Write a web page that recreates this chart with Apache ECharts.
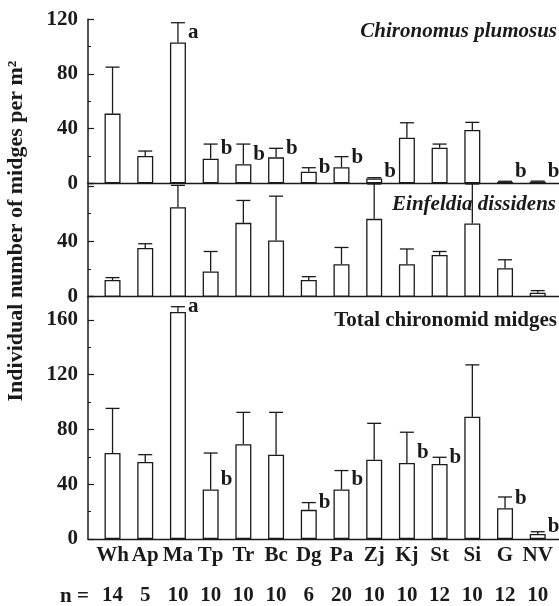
<!DOCTYPE html>
<html>
<head>
<meta charset="utf-8">
<script src="https://cdn.jsdelivr.net/npm/echarts@6/dist/echarts.min.js"></script>
<style>
html,body{margin:0;padding:0;background:#fff;}
#chart{width:559px;height:606px;}
</style>
</head>
<body>
<div id="chart"></div>
<script>
const categories = ['Wh','Ap','Ma','Tp','Tr','Bc','Dg','Pa','Zj','Kj','St','Si','G','NV'];
const nValues = [14,5,10,10,10,10,6,20,10,10,12,10,12,10];

const plumosusMean  = [51, 20, 103, 18, 14, 19, 8.5, 11.7, 3.6, 33.4, 26, 39, 1, 1.2];
const plumosusUpper = [85, 23.6, 117.5, 28.7, 28.7, 25.6, 11.4, 19.5, 4.1, 44.3, 28.7, 44.6, 1.5, 1.6];
const plumosusLetters = ['', '', 'a', 'b', 'b', 'b', 'b', 'b', 'b', '', '', '', 'b', 'b'];

const einfeldiaMean  = [12.1, 35.2, 64.7, 18.2, 53.4, 40.7, 12.1, 23.5, 56.3, 23.5, 30.1, 52.9, 20.6, 2.9];
const einfeldiaUpper = [13.8, 38.3, 80.5, 32.7, 69.6, 72.7, 14.5, 35.6, 81.5, 34.5, 32.7, 81.5, 26.7, 4.4];
const einfeldiaLetters = ['', '', '', '', '', '', '', '', '', '', '', '', '', ''];

const totalMean  = [62.8, 56.3, 165.8, 36.2, 69.3, 61.6, 21.3, 36.2, 57.9, 55.5, 54.8, 89.3, 22.5, 3.6];
const totalUpper = [95.4, 61.6, 169.7, 62.8, 92.5, 92.5, 26.6, 50, 84.5, 78, 59.7, 127.2, 30.7, 5.3];
const totalLetters = ['', '', 'a', 'b', '', '', 'b', 'b', '', 'b', 'b', '', 'b', 'b'];

const yTop = {max: 120, interval: 40};
const yMid = {max: 82, interval: 40};
const yBot = {max: 177, interval: 40};

const FONT = "'Liberation Serif','DejaVu Serif',serif";
const INK = '#1a1a1a';
const idx = categories.map((c, i) => i);

const chart = echarts.init(document.getElementById('chart'));

function barSeries(g, means) {
  return {
    type: 'bar', xAxisIndex: g, yAxisIndex: g, barWidth: 16, z: 2,
    itemStyle: {color: '#fff', borderColor: INK, borderWidth: 1.3},
    data: means.map((v, i) => [i, v]),
    silent: true
  };
}
function errSeries(g, means, uppers, letters) {
  return {
    type: 'custom', xAxisIndex: g, yAxisIndex: g, z: 3, clip: false, silent: true,
    encode: {x: 0, y: 2},
    data: means.map((v, i) => [i, v, uppers[i]]),
    renderItem: function (params, api) {
      const x = api.value(0), m = api.value(1), t = api.value(2);
      const pm = api.coord([x, m]);
      const pt = api.coord([x, t]);
      const p0 = api.coord([x, 0]);
      const style = {stroke: INK, lineWidth: 1.3};
      const children = [
        {type: 'line', shape: {x1: pm[0], y1: pm[1], x2: pt[0], y2: pt[1]}, style: style},
        {type: 'line', shape: {x1: pt[0] - 7, y1: pt[1], x2: pt[0] + 7, y2: pt[1]}, style: style}
      ];
      const letter = letters[params.dataIndex];
      if (letter) {
        const ly = Math.min(Math.max(pt[1], pm[1] - 10), p0[1] - 12);
        children.push({
          type: 'text',
          style: {text: letter, x: pm[0] + 10, y: ly, align: 'left', verticalAlign: 'middle',
                  font: 'bold 21px ' + FONT, fill: INK}
        });
      }
      return {type: 'group', children: children};
    }
  };
}

function yAxis(g, cfg, shown) {
  return {
    type: 'value', gridIndex: g, min: 0, max: cfg.max, interval: cfg.interval,
    axisLine: {show: true, onZero: false, lineStyle: {color: INK, width: 1.5}},
    axisTick: {show: true, inside: true, length: 6, lineStyle: {color: INK, width: 1.2}},
    minorTick: {show: true, splitNumber: 2, length: 3, lineStyle: {color: INK, width: 1}},
    splitLine: {show: false},
    axisLabel: {margin: 10, color: INK, fontFamily: FONT, fontWeight: 'bold', fontSize: 21,
                formatter: v => (shown.indexOf(v) >= 0 ? String(v) : '')}
  };
}
function xAxis(g, extra) {
  return Object.assign({
    type: 'value', gridIndex: g, min: -0.75, max: 13.65,
    axisLine: {show: true, onZero: true, lineStyle: {color: INK, width: 1.3}},
    axisTick: {show: false}, splitLine: {show: false},
    axisLabel: {show: false}
  }, extra || {});
}

const option = {
  backgroundColor: '#fff',
  animation: false,
  grid: [
    {left: 88, right: 0, top: 19.3, height: 164},
    {left: 88, right: 0, top: 183.3, height: 113.4},
    {left: 88, right: 0, top: 296.7, height: 245}
  ],
  xAxis: [
    xAxis(0), xAxis(1),
    xAxis(2, {position: 'bottom', axisLabel: {show: true, customValues: idx, margin: 6, color: INK, fontFamily: FONT,
      fontWeight: 'bold', fontSize: 21, formatter: v => categories[Math.round(v)]}}),
    xAxis(2, {position: 'bottom', offset: 40, axisLine: {show: false, onZero: false},
      axisLabel: {show: true, customValues: idx, margin: 6, color: INK, fontFamily: FONT,
      fontWeight: 'bold', fontSize: 21, formatter: v => String(nValues[Math.round(v)])}})
  ],
  yAxis: [
    yAxis(0, yTop, [0, 40, 80, 120]),
    yAxis(1, yMid, [0, 40]),
    yAxis(2, yBot, [0, 40, 80, 120, 160])
  ],
  title: [
    {text: 'Chironomus plumosus', right: 2, top: 21, padding: 0,
     textStyle: {fontFamily: FONT, fontStyle: 'italic', fontWeight: 'bold', fontSize: 21, color: INK}},
    {text: 'Einfeldia dissidens', right: 3, top: 194, padding: 0,
     textStyle: {fontFamily: FONT, fontStyle: 'italic', fontWeight: 'bold', fontSize: 21, color: INK}},
    {text: 'Total chironomid midges', right: 2, top: 310, padding: 0,
     textStyle: {fontFamily: FONT, fontWeight: 'bold', fontSize: 21, color: INK}}
  ],
  graphic: [
    {type: 'text', x: 16, y: 231, rotation: Math.PI / 2,
     style: {text: 'Individual number of midges per m²', align: 'center', verticalAlign: 'middle',
             font: 'bold 22px ' + FONT, fill: INK}},
    {type: 'text', x: 89, y: 597,
     style: {text: 'n =', align: 'right', verticalAlign: 'middle', font: 'bold 21px ' + FONT, fill: INK}}
  ],
  series: [
    barSeries(0, plumosusMean), errSeries(0, plumosusMean, plumosusUpper, plumosusLetters),
    barSeries(1, einfeldiaMean), errSeries(1, einfeldiaMean, einfeldiaUpper, einfeldiaLetters),
    barSeries(2, totalMean), errSeries(2, totalMean, totalUpper, totalLetters)
  ]
};
chart.setOption(option);
</script>
</body>
</html>
